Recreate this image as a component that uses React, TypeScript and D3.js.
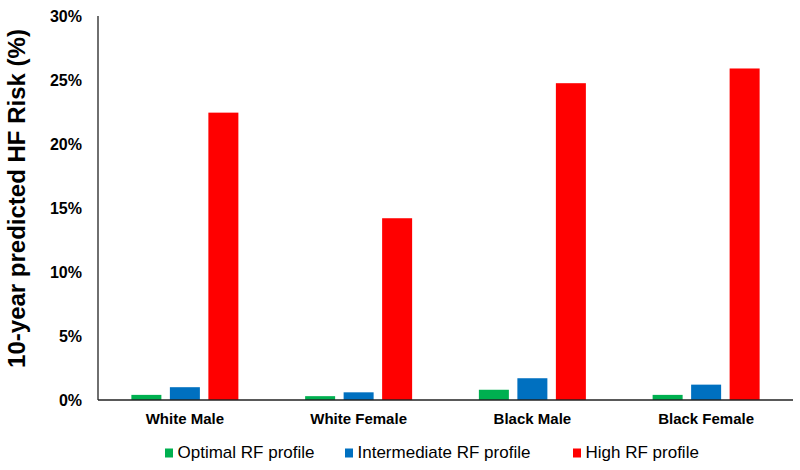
import React from "react";
import * as d3 from "d3";

const categories = ["White Male", "White Female", "Black Male", "Black Female"];
const seriesNames = ["Optimal RF profile", "Intermediate RF profile", "High RF profile"];
const optimal = [0.4, 0.3, 0.8, 0.4];
const intermediate = [1.0, 0.6, 1.7, 1.2];
const high = [22.45, 14.2, 24.75, 25.9];
const yTicks = [0, 5, 10, 15, 20, 25, 30];
const colors = ["#00B050", "#0070C0", "#FF0000"];

const W = 800;
const H = 470;
const left = 98;
const right = 793;
const top = 16;
const bottom = 400;

export default function App() {
  const values = [optimal, intermediate, high];
  const step = (right - left) / categories.length;
  const groupW = 107;
  const pi = (step - groupW) / step;
  const x0 = d3
    .scaleBand<string>()
    .domain(categories)
    .range([left, right])
    .paddingInner(pi)
    .paddingOuter(pi / 2);
  const x1 = d3
    .scaleBand<string>()
    .domain(seriesNames)
    .range([0, x0.bandwidth()])
    .paddingInner(8.5 / 38.5)
    .paddingOuter(0);
  const y = d3.scaleLinear().domain([0, 30]).range([bottom, top]);

  const legendX = [165, 345, 573];
  const font = "Arial, 'Liberation Sans', sans-serif";

  return (
    <svg
      width={W}
      height={H}
      style={{ position: "absolute", left: 0, top: 0, background: "#fff" }}
      fontFamily={font}
    >
      {categories.map((c, i) => (
        <g key={c}>
          {seriesNames.map((s, j) => {
            const v = values[j][i];
            return (
              <rect
                key={s}
                x={(x0(c) ?? 0) + (x1(s) ?? 0)}
                y={y(v)}
                width={x1.bandwidth()}
                height={bottom - y(v)}
                fill={colors[j]}
              />
            );
          })}
          <text
            x={(x0(c) ?? 0) + x0.bandwidth() / 2}
            y={423.5}
            textAnchor="middle"
            fontSize={15}
            fontWeight="bold"
            fill="#000"
          >
            {c}
          </text>
        </g>
      ))}
      <line x1={left} x2={left} y1={top} y2={bottom} stroke="#222" strokeWidth={1.3} />
      <line x1={left} x2={right} y1={bottom} y2={bottom} stroke="#222" strokeWidth={1.3} />
      {yTicks.map((t) => (
        <text
          key={t}
          x={82}
          y={y(t)}
          dy="0.36em"
          textAnchor="end"
          fontSize={16}
          fontWeight="bold"
          fill="#000"
        >
          {t + "%"}
        </text>
      ))}
      <text
        transform={`translate(25, ${(29 + 368) / 2}) rotate(-90)`}
        textAnchor="middle"
        fontSize={24}
        fontWeight="bold"
        fill="#000"
      >
        10-year predicted HF Risk (%)
      </text>
      {seriesNames.map((s, j) => (
        <g key={s}>
          <rect x={legendX[j]} y={448.5} width={8} height={9} fill={colors[j]} />
          <text x={legendX[j] + 12.5} y={458} fontSize={17} fill="#000">
            {s}
          </text>
        </g>
      ))}
    </svg>
  );
}
